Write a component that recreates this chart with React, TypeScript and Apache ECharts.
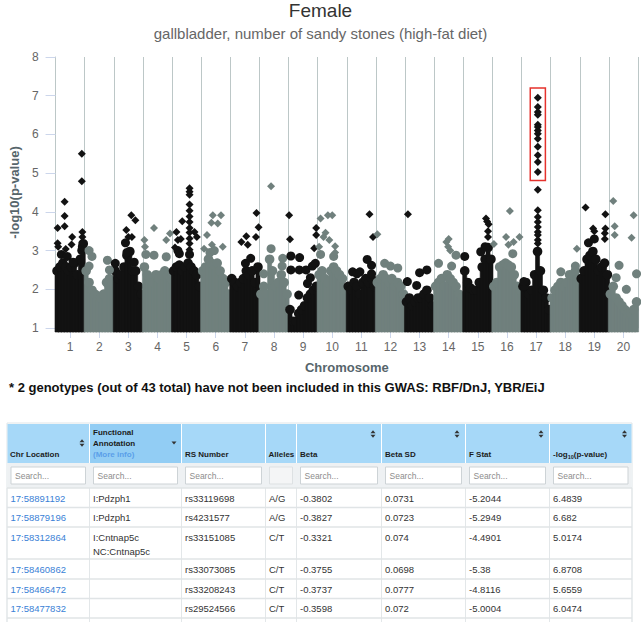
import React, { useEffect, useRef } from 'react';
import * as echarts from 'echarts';

const FONT = '"Liberation Sans", Arial, Helvetica, sans-serif';
const BLACK = '#121212';
const GRAY = '#70807d';
const RED = '#e5322d';

// ---------- chart data ----------
const chromosomes = ['1', '2', '3', '4', '5', '6', '7', '8', '9', '10', '11', '12', '13', '14', '15', '16', '17', '18', '19', '20'];

// positions (fraction of chromosome width) where the top of the dense mass was read
const skylinePositions = [0.05, 0.15, 0.25, 0.35, 0.45, 0.55, 0.65, 0.75, 0.85, 0.95];
// top of the dense mass of points, per chromosome
const skylineTops: number[][] = [
  [2.6, 2.7, 2.8, 2.7, 2.6, 2.7, 2.8, 2.5, 2.9, 3.3],
  [2.6, 2.3, 2.1, 2.0, 1.95, 1.9, 2.0, 2.3, 2.4, 2.3],
  [2.6, 2.4, 2.5, 2.7, 3.0, 3.1, 2.6, 2.6, 2.2, 2.0],
  [2.7, 2.5, 2.4, 2.3, 2.5, 2.4, 2.5, 2.6, 2.5, 2.4],
  [2.6, 2.7, 2.75, 2.6, 2.7, 2.8, 2.7, 2.6, 2.5, 2.2],
  [2.6, 2.7, 2.9, 2.8, 2.75, 2.8, 2.6, 2.4, 2.3, 2.0],
  [2.4, 2.3, 2.2, 2.3, 2.4, 2.6, 2.5, 2.6, 2.3, 2.7],
  [2.0, 2.2, 2.0, 2.9, 2.6, 2.2, 2.3, 2.5, 2.3, 2.0],
  [1.6, 1.3, 1.3, 1.5, 1.6, 1.7, 1.9, 2.0, 2.1, 2.2],
  [2.5, 2.6, 2.4, 2.3, 2.6, 2.7, 2.6, 2.5, 2.4, 2.1],
  [2.2, 2.1, 2.3, 2.2, 2.0, 2.3, 2.4, 2.3, 2.4, 2.2],
  [2.3, 2.4, 2.5, 2.4, 2.3, 2.4, 2.2, 2.3, 2.2, 2.0],
  [1.8, 1.9, 1.7, 1.8, 1.9, 1.9, 2.0, 2.1, 1.9, 1.7],
  [2.2, 2.3, 2.4, 2.2, 2.5, 2.4, 2.3, 2.2, 2.0, 1.9],
  [2.6, 2.3, 2.15, 2.1, 2.1, 2.3, 2.7, 2.9, 3.2, 2.9],
  [2.2, 2.3, 2.7, 2.75, 2.8, 2.75, 2.7, 2.5, 2.2, 2.1],
  [2.2, 2.3, 2.0, 2.1, 2.5, 3.1, 2.6, 2.1, 1.9, 1.6],
  [1.9, 2.1, 2.2, 2.3, 2.2, 2.3, 2.5, 2.5, 2.6, 2.4],
  [2.4, 2.6, 2.9, 3.0, 3.1, 2.9, 2.6, 2.7, 2.8, 2.5],
  [2.0, 2.2, 1.9, 1.8, 1.7, 1.6, 1.5, 1.5, 1.6, 1.8],
];

// [chromosome, position within chromosome (0..1), -log10 p]
const circlePoints: number[][] = [
  [1, 0.2, 2.9], [1, 0.4, 2.85], [1, 0.6, 2.7], [1, 0.9, 3.0], [1, 0.92, 3.1],
  [2, 0.15, 3.0], [2, 0.25, 2.85], [2, 0.78, 2.75], [2, 0.85, 2.5], [2, 0.15, 2.6],
  [3, 0.4, 3.2], [3, 0.45, 2.95], [3, 0.05, 2.67], [3, 0.7, 2.7],
  [4, 0.38, 2.88], [4, 0.8, 2.84], [4, 0.1, 2.9],
  [5, 0.25, 2.92], [5, 0.2, 3.0], [5, 0.6, 2.9],
  [6, 0.3, 2.95], [6, 0.45, 3.0],
  [7, 0.52, 2.67], [7, 0.7, 2.8],
  [8, 0.4, 3.05], [8, 0.8, 2.8], [8, 0.78, 2.6], [8, 0.15, 2.4],
  [9, 0.08, 2.86], [9, 0.38, 2.82], [9, 0.08, 2.5], [9, 0.37, 2.5], [9, 0.6, 2.5], [9, 0.82, 2.6], [9, 0.92, 2.67], [9, 0.35, 1.85], [9, 0.65, 2.15], [9, 0.75, 2.3],
  [10, 0.1, 2.9], [10, 0.55, 2.85],
  [11, 0.2, 2.45], [11, 0.35, 2.4], [11, 0.45, 2.45], [11, 0.7, 2.77], [11, 0.85, 2.62], [11, 0.85, 2.4],
  [12, 0.3, 2.67], [12, 0.5, 2.6], [12, 0.75, 2.55],
  [13, 0.08, 2.2], [13, 0.5, 2.43], [13, 0.75, 2.5], [13, 0.4, 2.1],
  [14, 0.15, 2.67], [14, 0.75, 2.88], [14, 0.6, 2.6],
  [15, 0.6, 2.97], [15, 0.05, 2.85], [15, 0.75, 3.1],
  [16, 0.7, 2.92],
  [17, 0.1, 2.08], [17, 0.08, 2.2],
  [18, 0.35, 2.45], [18, 0.85, 2.6],
  [19, 0.3, 3.2], [19, 0.5, 3.3],
  [20, 0.35, 2.62], [20, 0.25, 2.3], [20, 0.95, 2.4], [20, 0.6, 2.0],
];

const diamondPoints: number[][] = [
  [1, 0.07, 3.58], [1, 0.07, 3.19], [1, 0.09, 3.1], [1, 0.31, 4.26], [1, 0.31, 3.89], [1, 0.31, 3.63], [1, 0.35, 3.04], [1, 0.57, 3.35], [1, 0.55, 3.16], [1, 0.9, 5.5], [1, 0.9, 4.79], [1, 0.92, 3.48], [1, 0.92, 3.35], [1, 0.92, 3.2],
  [3, 0.43, 3.53], [3, 0.5, 3.35], [3, 0.62, 3.35], [3, 0.6, 3.91], [3, 0.74, 3.78],
  [4, 0.05, 3.27], [4, 0.07, 3.1], [4, 0.38, 3.58], [4, 0.8, 3.27], [4, 0.93, 3.44],
  [5, 0.15, 3.48], [5, 0.2, 3.27], [5, 0.3, 3.3], [5, 0.35, 3.76], [5, 0.1, 3.08], [5, 0.77, 3.48], [5, 0.85, 3.35],
  [5, 0.6, 3.02], [5, 0.6, 3.18], [5, 0.6, 3.31], [5, 0.6, 3.47], [5, 0.6, 3.58], [5, 0.6, 3.74], [5, 0.6, 3.88], [5, 0.6, 4.03], [5, 0.6, 4.19], [5, 0.6, 4.44], [5, 0.6, 4.52], [5, 0.6, 4.61],
  [6, 0.1, 3.05], [6, 0.2, 3.4], [6, 0.35, 3.72], [6, 0.37, 3.15], [6, 0.4, 3.91], [6, 0.57, 3.7], [6, 0.68, 3.91], [6, 0.74, 3.1],
  [7, 0.38, 3.22], [7, 0.55, 3.37], [7, 0.6, 3.15], [7, 0.9, 3.97], [7, 0.97, 3.6], [7, 0.88, 3.35],
  [8, 0.4, 4.66],
  [9, 0.02, 3.91], [9, 0.05, 3.29], [9, 0.95, 3.58], [9, 0.95, 3.4], [9, 0.88, 3.06],
  [10, 0.1, 3.83], [10, 0.35, 3.91], [10, 0.5, 3.91], [10, 0.27, 3.46], [10, 0.2, 3.35], [10, 0.4, 3.27], [10, 0.6, 3.11], [10, 0.6, 2.95], [10, 0.05, 3.1],
  [11, 0.78, 3.94], [11, 0.9, 3.35],
  [12, 0.05, 3.42],
  [13, 0.1, 3.94],
  [14, 0.42, 3.22], [14, 0.5, 3.3], [14, 0.55, 3.0], [14, 0.48, 3.1],
  [15, 0.78, 3.83], [15, 0.82, 3.75], [15, 0.87, 3.68], [15, 0.85, 3.5], [15, 0.85, 3.35],
  [16, 0.6, 4.02], [16, 0.47, 3.35], [16, 0.73, 3.22], [16, 0.93, 3.35], [16, 0.55, 3.15], [16, 0.05, 3.17],
  [18, 0.9, 3.05],
  [19, 0.2, 4.11], [19, 0.46, 3.57], [19, 0.5, 3.5], [19, 0.88, 3.94], [19, 0.88, 3.57], [19, 0.86, 3.45], [19, 0.86, 3.3],
  [20, 0.15, 4.28], [20, 0.2, 3.63], [20, 0.2, 3.4], [20, 0.85, 3.91], [20, 0.78, 3.33],
];

// chromosome 17 peak column
const chr17PeakPosition = 0.56;
const chr17PeakValues = [6.95, 6.71, 6.58, 6.51, 6.25, 6.19, 6.1, 6.02, 5.89, 5.68, 5.46, 5.29, 5.03, 4.57, 4.04, 3.87, 3.74, 3.61, 3.48, 3.4, 3.27, 3.18];
// highlighted region [x0, y0, x1, y1] in axis units
const highlightBox = [16.3, 7.2, 16.82, 4.81];

// ---------- table data ----------
const tableHeaders = ['Chr Location', 'Functional\nAnnotation', 'RS Number', 'Alleles', 'Beta', 'Beta SD', 'F Stat', '-log10(p-value)'];
const chrLocations = ['17:58891192', '17:58879196', '17:58312864', '17:58460862', '17:58466472', '17:58477832'];
const annotations = ['I:Pdzph1', 'I:Pdzph1', 'I:Cntnap5c\nNC:Cntnap5c', '', '', ''];
const rsNumbers = ['rs33119698', 'rs4231577', 'rs33151085', 'rs33073085', 'rs33208243', 'rs29524566'];
const alleles = ['A/G', 'A/G', 'C/T', 'C/T', 'C/T', 'C/T'];
const betas = ['-0.3802', '-0.3827', '-0.3321', '-0.3755', '-0.3737', '-0.3598'];
const betaSDs = ['0.0731', '0.0723', '0.074', '0.0698', '0.0777', '0.072'];
const fStats = ['-5.2044', '-5.2949', '-4.4901', '-5.38', '-4.8116', '-5.0004'];
const logPValues = ['6.4839', '6.682', '5.0174', '6.8708', '5.6559', '6.0474'];

// ---------- layout ----------
const COLS = [7, 89.5, 181.5, 265.5, 296.5, 381.5, 465.5, 549.5, 632];
const HEAD_TOP = 424;
const HEAD_BOT = 463;
const SEARCH_BOT = 488;
const ROW_TOPS = [488, 507.5, 527, 559, 579, 598.5, 618];

function txt(x: number, y: number, text: string, opts: any = {}) {
  const align = opts.align || 'left';
  const va = opts.va || 'middle';
  return {
    type: 'text',
    x,
    y,
    silent: true,
    style: {
      text,
      fill: opts.fill || '#333',
      fontSize: opts.size || 9.5,
      fontWeight: opts.weight || 'normal',
      fontFamily: FONT,
      lineHeight: opts.lineHeight,
      align,
      verticalAlign: va,
      textAlign: align,
      textVerticalAlign: va,
    },
  };
}

function sortIcon(cx: number, cy: number) {
  return [
    { type: 'polygon', silent: true, shape: { points: [[cx - 2.5, cy - 0.8], [cx + 2.5, cy - 0.8], [cx, cy - 3.8]] }, style: { fill: '#333' } },
    { type: 'polygon', silent: true, shape: { points: [[cx - 2.5, cy + 0.8], [cx + 2.5, cy + 0.8], [cx, cy + 3.8]] }, style: { fill: '#333' } },
  ];
}

function buildTable(): any[] {
  const els: any[] = [];
  const right = COLS[COLS.length - 1];
  els.push({ type: 'rect', silent: true, shape: { x: COLS[0], y: HEAD_TOP - 1, width: right - COLS[0], height: 622 - HEAD_TOP + 2 }, style: { fill: '#fff', stroke: '#dfe5e8', lineWidth: 1 } });
  for (let i = 0; i < 8; i++) {
    els.push({ type: 'rect', silent: true, shape: { x: COLS[i] + 0.5, y: HEAD_TOP, width: COLS[i + 1] - COLS[i] - 1, height: HEAD_BOT - HEAD_TOP }, style: { fill: i === 1 ? '#92cdf4' : '#a6d8f8' } });
  }
  els.push({ type: 'rect', silent: true, shape: { x: COLS[0] + 0.5, y: HEAD_BOT, width: right - COLS[0] - 1, height: SEARCH_BOT - HEAD_BOT }, style: { fill: '#eef1f3' } });
  for (let i = 0; i < 8; i++) {
    const isAllele = i === 3;
    els.push({ type: 'rect', silent: true, shape: { x: COLS[i] + 4, y: 467, width: COLS[i + 1] - COLS[i] - 8, height: 17 }, style: { fill: isAllele ? '#f4f5f6' : '#ffffff', stroke: isAllele ? '#dde1e3' : '#cdd3d6', lineWidth: 1 } });
    if (!isAllele) els.push(txt(COLS[i] + 8, 475.5, 'Search...', { fill: '#8d8d8d', size: 8.5 }));
  }
  for (let i = 0; i < COLS.length; i++) {
    els.push({ type: 'line', silent: true, shape: { x1: COLS[i], y1: SEARCH_BOT, x2: COLS[i], y2: 622 }, style: { stroke: '#e3e7e9', lineWidth: 1 } });
  }
  for (let r = 0; r < ROW_TOPS.length; r++) {
    els.push({ type: 'line', silent: true, shape: { x1: COLS[0], y1: ROW_TOPS[r], x2: right, y2: ROW_TOPS[r] }, style: { stroke: '#e0e4e6', lineWidth: 1.5 } });
  }
  const hb = { size: 8, weight: 'bold', fill: '#1c1c1c' };
  els.push(txt(COLS[0] + 3, 454, tableHeaders[0], hb));
  els.push(txt(COLS[1] + 3.5, 438, tableHeaders[1], { ...hb, lineHeight: 11.5 }));
  els.push(txt(COLS[1] + 3.5, 454.3, '(More info)', { size: 8, weight: 'bold', fill: '#5a9fe9' }));
  els.push(txt(COLS[2] + 3.5, 454, tableHeaders[2], hb));
  els.push(txt(COLS[3] + 3, 454, tableHeaders[3], hb));
  els.push(txt(COLS[4] + 3.5, 454, tableHeaders[4], hb));
  els.push(txt(COLS[5] + 3.5, 454, tableHeaders[5], hb));
  els.push(txt(COLS[6] + 3.5, 454, tableHeaders[6], hb));
  const lx = COLS[7] + 3.5;
  els.push(txt(lx, 454, '-log', hb));
  els.push(txt(lx + 14.7, 456.5, '10', { size: 5.5, weight: 'bold', fill: '#1c1c1c' }));
  els.push(txt(lx + 20.8, 454, '(p-value)', hb));
  els.push(...sortIcon(82, 443));
  els.push({ type: 'polygon', silent: true, shape: { points: [[171.5, 441.5], [176.5, 441.5], [174, 444.5]] }, style: { fill: '#333' } });
  els.push(...sortIcon(373, 434));
  els.push(...sortIcon(457, 434));
  els.push(...sortIcon(541, 434));
  els.push(...sortIcon(624.5, 434));
  const columns = [chrLocations, annotations, rsNumbers, alleles, betas, betaSDs, fStats, logPValues];
  for (let r = 0; r < chrLocations.length; r++) {
    for (let c = 0; c < columns.length; c++) {
      const v = columns[c][r];
      if (!v) continue;
      els.push(txt(COLS[c] + 3.5, ROW_TOPS[r] + 3, v, { va: 'top', lineHeight: 14, fill: c === 0 ? '#3a7fd6' : '#333', size: 9.5 }));
    }
  }
  return els;
}

function buildOption(): any {
  const massData: number[][] = [];
  skylineTops.forEach((tops, ci) => {
    tops.forEach((t, j) => massData.push([ci + skylinePositions[j], t, ci + 1]));
  });
  const circleData = circlePoints.map(([c, f, v]) => [c - 1 + f, v, c]);
  const diamondData = diamondPoints.map(([c, f, v]) => [c - 1 + f, v, c]);
  chr17PeakValues.forEach((v) => diamondData.push([16 + chr17PeakPosition, v, 17]));
  const colorOf = (p: any) => (p.data[2] % 2 === 1 ? BLACK : GRAY);

  return {
    animation: false,
    backgroundColor: '#ffffff',
    textStyle: { fontFamily: FONT },
    grid: { left: 45, right: 3, top: 57, height: 271 },
    xAxis: [
      {
        type: 'value',
        min: 0,
        max: 20,
        interval: 1,
        axisLine: { show: false },
        axisTick: { show: false },
        axisLabel: { show: false },
        splitLine: { show: true, lineStyle: { color: '#bcc7c7', width: 1 } },
      },
      {
        type: 'category',
        data: chromosomes,
        position: 'bottom',
        boundaryGap: true,
        axisLine: { show: true, lineStyle: { color: '#ccd6eb' } },
        axisTick: { show: true, alignWithLabel: true, length: 10, lineStyle: { color: '#ccd6eb' } },
        axisLabel: { margin: 13, fontSize: 12, color: '#666666', fontFamily: FONT },
        splitLine: { show: false },
        name: 'Chromosome',
        nameLocation: 'middle',
        nameGap: 33,
        nameTextStyle: { fontSize: 13, fontWeight: 'bold', color: '#56656b', fontFamily: FONT },
      },
    ],
    yAxis: {
      type: 'value',
      min: 1,
      max: 8,
      interval: 1,
      axisLine: { show: true, lineStyle: { color: '#bcc7c7' } },
      axisTick: { show: true, length: 10, lineStyle: { color: '#ccd6eb' } },
      axisLabel: { margin: 17, fontSize: 12, color: '#666666', fontFamily: FONT },
      splitLine: { show: false },
      name: '-log10(p-value)',
      nameLocation: 'middle',
      nameGap: 29,
      nameTextStyle: { fontSize: 13, fontWeight: 'bold', color: '#56656b', fontFamily: FONT },
    },
    series: [
      {
        type: 'custom',
        xAxisIndex: 0,
        yAxisIndex: 0,
        silent: true,
        clip: false,
        data: massData,
        renderItem: (params: any, api: any) => {
          const x = api.value(0);
          const top = api.value(1);
          const chr = api.value(2);
          const a = api.coord([x - 0.07, top]);
          const b = api.coord([x + 0.07, 1]);
          const fill = chr % 2 === 1 ? BLACK : GRAY;
          const cy = a[1] + 4.8;
          return {
            type: 'group',
            children: [
              { type: 'rect', shape: { x: a[0], y: cy, width: b[0] - a[0], height: b[1] + 4 - cy }, style: { fill, stroke: fill, lineWidth: 0.6 } },
              { type: 'circle', shape: { cx: (a[0] + b[0]) / 2, cy, r: 4.8 }, style: { fill } },
            ],
          };
        },
      },
      {
        type: 'scatter',
        xAxisIndex: 0,
        yAxisIndex: 0,
        symbol: 'circle',
        symbolSize: 9,
        silent: true,
        data: circleData,
        itemStyle: { color: colorOf, opacity: 1 },
      },
      {
        type: 'scatter',
        xAxisIndex: 0,
        yAxisIndex: 0,
        symbol: 'diamond',
        symbolSize: 8,
        silent: true,
        data: diamondData,
        itemStyle: { color: colorOf, opacity: 1 },
        markArea: {
          silent: true,
          itemStyle: { color: 'rgba(0,0,0,0)', borderColor: RED, borderWidth: 1.5 },
          data: [[{ xAxis: highlightBox[0], yAxis: highlightBox[1] }, { xAxis: highlightBox[2], yAxis: highlightBox[3] }]],
        },
      },
    ],
    graphic: [
      txt(320.5, 10.5, 'Female', { align: 'center', size: 19, fill: '#333333' }),
      txt(320.5, 33, 'gallbladder, number of sandy stones (high-fat diet)', { align: 'center', size: 15, fill: '#666666' }),
      txt(9, 387, '* 2 genotypes (out of 43 total) have not been included in this GWAS: RBF/DnJ, YBR/EiJ', { size: 13, weight: 'bold', fill: '#111111' }),
      ...buildTable(),
    ],
  };
}

export default function App() {
  const ref = useRef<HTMLDivElement>(null);
  useEffect(() => {
    if (!ref.current) return;
    const chart = echarts.init(ref.current, undefined, { renderer: 'svg' });
    chart.setOption(buildOption());
    return () => chart.dispose();
  }, []);
  return <div ref={ref} style={{ position: 'absolute', left: 0, top: 0, width: 641, height: 622 }} />;
}
